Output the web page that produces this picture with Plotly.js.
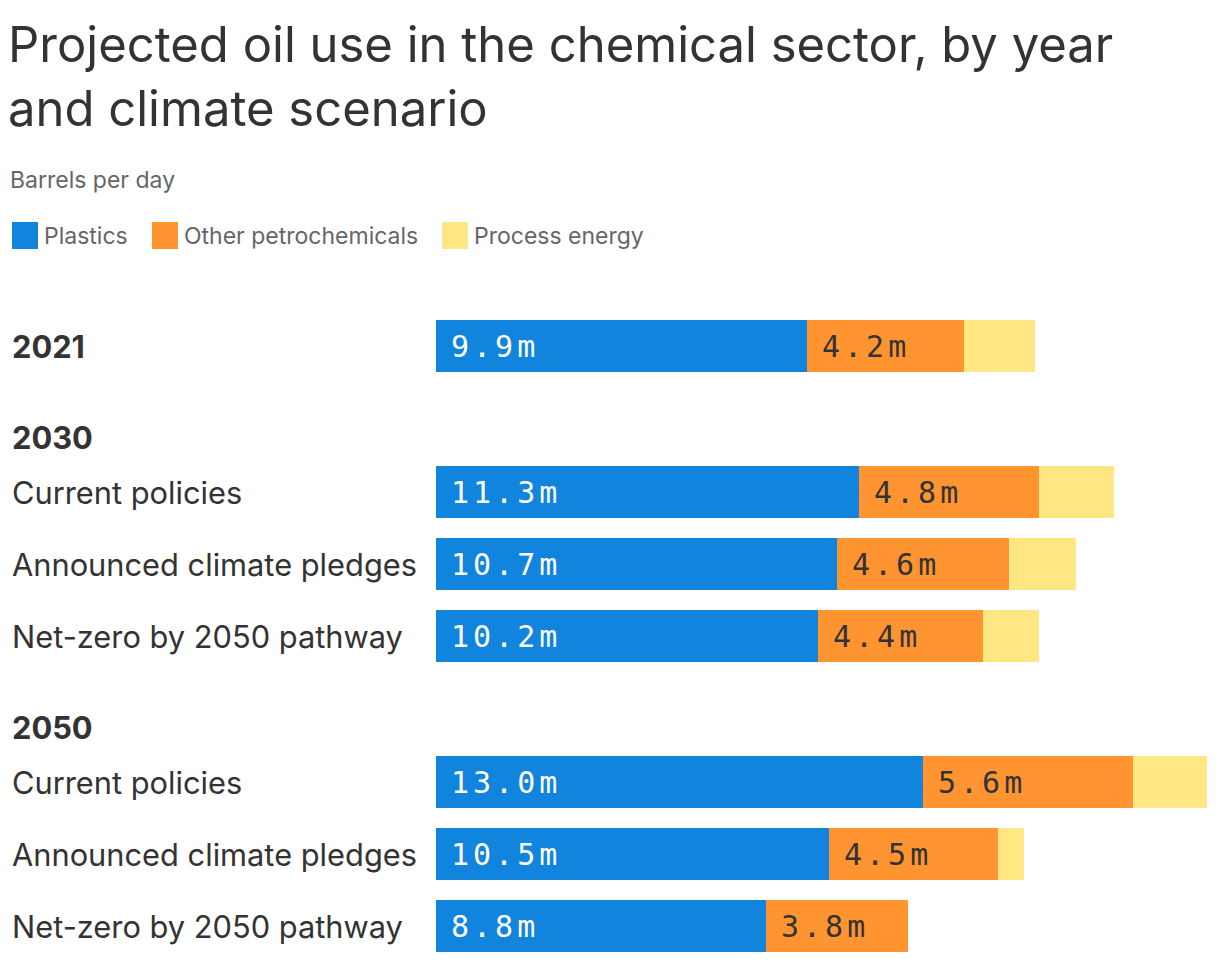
<!DOCTYPE html>
<html>
<head>
<meta charset="utf-8">
<script src="https://cdn.plot.ly/plotly-3.0.1.min.js"></script>
<style>
  html, body { margin: 0; padding: 0; background: #fff; }
  #chart { width: 1220px; height: 964px; }
  /* the value labels are spaced out like the original */
  text.annotation-text[style*="Mono"] { letter-spacing: 4px; }
</style>
</head>
<body>
<div id="chart"></div>
<script>
/*
 Data (million barrels per day)
*/

var groups = ["2021", "2030", "2030", "2030", "2050", "2050", "2050"];
var scenarios = ["", "Current policies", "Announced climate pledges", "Net-zero by 2050 pathway",
                 "Current policies", "Announced climate pledges", "Net-zero by 2050 pathway"];
var seriesNames = ["Plastics", "Other petrochemicals", "Process energy"];
var plastics = [9.9, 11.3, 10.7, 10.2, 13.0, 10.5, 8.8];
var otherPetro = [4.2, 4.8, 4.6, 4.4, 5.6, 4.5, 3.8];
var processEnergy = [1.9, 2.0, 1.8, 1.5, 2.0, 0.7, 0];

/*
 Layout helpers
*/

var W = 1220, H = 964, TOP = 300;
var colors = ["#1184dd", "#ff9431", "#ffe783"];
var labelColors = ["#ffffff", "#333333", "#333333"];

// rows sit 72px apart, groups get a bit more room plus a header line
var ROW = 1, GROUP_GAP = 91 / 72, HEAD_GAP = 55 / 72;
var rowY = [], headers = [];
var cur = null, y = 0;
groups.forEach(function(g, i) {
  if (g !== cur) {
    if (cur !== null) y += GROUP_GAP;
    if (scenarios[i]) {
      headers.push({text: g, y: y});
      y += HEAD_GAP;
    }
    cur = g;
  } else {
    y += ROW;
  }
  rowY.push(y);
});

function px(p) { return p / W; }
function py(p) { return (H - p) / (H - TOP); }

var series = [plastics, otherPetro, processEnergy];

var data = series.map(function(vals, s) {
  return {
    type: "bar",
    orientation: "h",
    name: seriesNames[s],
    x: vals,
    y: rowY,
    width: 52 / 72,
    marker: {color: colors[s], line: {width: 0}},
    hoverinfo: "skip"
  };
});

var annotations = [];

// value labels inside the first two segments
for (var s = 0; s < 2; s++) {
  series[s].forEach(function(v, i) {
    var base = 0;
    for (var k = 0; k < s; k++) base += series[k][i];
    annotations.push({
      x: base, y: rowY[i], xref: "x", yref: "y",
      xanchor: "left", yanchor: "middle", xshift: 13,
      text: v.toFixed(1) + "m", showarrow: false,
      font: {family: "DejaVu Sans Mono", size: 30, color: labelColors[s]}
    });
  });
}

// row labels on the left
var labelFont = {family: "Inter", size: 30.8, color: "#333333"};
groups.forEach(function(g, i) {
  var lab = scenarios[i] ? scenarios[i] : "<b>" + g + "</b>";
  annotations.push({
    x: px(10), y: rowY[i], xref: "paper", yref: "y",
    xanchor: "left", yanchor: "middle",
    text: lab, showarrow: false, font: labelFont
  });
});
headers.forEach(function(h) {
  annotations.push({
    x: px(10), y: h.y, xref: "paper", yref: "y",
    xanchor: "left", yanchor: "middle",
    text: "<b>" + h.text + "</b>", showarrow: false, font: labelFont
  });
});

// subtitle
annotations.push({
  x: px(8), y: py(180), xref: "paper", yref: "paper",
  xanchor: "left", yanchor: "middle", text: "Barrels per day", showarrow: false,
  font: {family: "Inter", size: 23, color: "#666666"}
});

// legend drawn by hand so the swatches can be big
var legendX = [12, 152, 442];
var shapes = [];
seriesNames.forEach(function(n, s) {
  shapes.push({
    type: "rect", xref: "paper", yref: "paper",
    x0: px(legendX[s]), x1: px(legendX[s] + 26),
    y0: py(249), y1: py(222),
    fillcolor: colors[s], line: {width: 0}
  });
  annotations.push({
    x: px(legendX[s] + 30), y: py(236), xref: "paper", yref: "paper",
    xanchor: "left", yanchor: "middle", text: n, showarrow: false,
    font: {family: "Inter", size: 23, color: "#666666"}
  });
});

var layout = {
  width: W,
  height: H,
  margin: {l: 0, r: 0, t: TOP, b: 0},
  barmode: "stack",
  showlegend: false,
  hovermode: false,
  plot_bgcolor: "#ffffff",
  paper_bgcolor: "#ffffff",
  title: {
    text: "Projected oil use in the chemical sector, by year<br>and climate scenario",
    x: px(8), xanchor: "left", xref: "container",
    y: 1 - 62 / H, yanchor: "top", yref: "container",
    font: {family: "Inter", size: 49, color: "#333333"}
  },
  xaxis: {domain: [px(436), 1], range: [0, 784 / 37.45], visible: false, fixedrange: true},
  yaxis: {range: [(H - TOP) / 72 - 46 / 72, -46 / 72], visible: false, fixedrange: true},
  annotations: annotations,
  shapes: shapes
};

var config = {
  displayModeBar: false,
  staticPlot: true
};

Plotly.newPlot("chart", data, layout, config);
</script>
</body>
</html>
